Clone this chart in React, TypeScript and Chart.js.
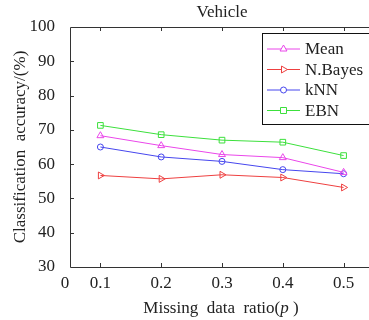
import React, { useEffect, useRef } from "react";
import { Chart, registerables } from "chart.js";

Chart.register(...registerables);

const chartTitle = "Vehicle";
const yAxisTitle = "Classification  accuracy/(%)";
const xAxisTitleMain = "Missing  data  ratio(";
const xAxisTitleVar = "p";
const xAxisTitleEnd = " )";

const ratios = [0.1, 0.2, 0.3, 0.4, 0.5];
const meanAcc = [68.3, 65.4, 62.8, 61.9, 57.6];
const bayesAcc = [56.7, 55.7, 56.9, 56.1, 53.2];
const knnAcc = [65.0, 62.1, 60.8, 58.4, 57.2];
const ebnAcc = [71.3, 68.6, 67.0, 66.4, 62.5];
const seriesNames = ["Mean", "N.Bayes", "kNN", "EBN"];

const xTickValues = [0.05, 0.1, 0.2, 0.3, 0.4, 0.5];
const xTickLabels = ["0", "0.1", "0.2", "0.3", "0.4", "0.5"];
const yTickValues = [30, 40, 50, 60, 70, 80, 90, 100];

const FONT = "'Liberation Serif', 'DejaVu Serif', serif";
const colors = ["#ea46ea", "#ee4040", "#4646ee", "#3ce03c"];
const shapes = ["triangle", "rtriangle", "circle", "rect"];

function drawMarker(ctx: CanvasRenderingContext2D, shape: string, x: number, y: number, color: string) {
  ctx.save();
  ctx.strokeStyle = color;
  ctx.lineWidth = 1;
  ctx.fillStyle = "#ffffff";
  ctx.beginPath();
  if (shape === "triangle") {
    const r = 4;
    ctx.moveTo(x, y - r);
    ctx.lineTo(x + r * 0.866, y + r * 0.5);
    ctx.lineTo(x - r * 0.866, y + r * 0.5);
    ctx.closePath();
  } else if (shape === "rtriangle") {
    const r = 4;
    ctx.moveTo(x + r, y);
    ctx.lineTo(x - r * 0.5, y + r * 0.866);
    ctx.lineTo(x - r * 0.5, y - r * 0.866);
    ctx.closePath();
  } else if (shape === "circle") {
    ctx.arc(x, y, 3, 0, Math.PI * 2);
  } else {
    ctx.rect(x - 3, y - 3, 6, 6);
  }
  ctx.fill();
  ctx.stroke();
  ctx.restore();
}

const decorPlugin = {
  id: "matlabDecor",
  afterDraw(chart: any) {
    const ctx: CanvasRenderingContext2D = chart.ctx;
    const { left, right, top, bottom } = chart.chartArea;
    const xs = chart.scales.x;
    const ys = chart.scales.y;
    ctx.save();
    // axes box
    ctx.strokeStyle = "#333333";
    ctx.lineWidth = 1;
    ctx.beginPath();
    ctx.moveTo(left + 0.5, top + 0.5);
    ctx.lineTo(left + 0.5, bottom + 0.5);
    ctx.lineTo(right, bottom + 0.5);
    ctx.moveTo(left + 0.5, top + 0.5);
    ctx.lineTo(right, top + 0.5);
    ctx.lineTo(right, bottom + 0.5);
    ctx.stroke();
    // ticks
    ctx.beginPath();
    for (let i = 1; i < xTickValues.length; i++) {
      const px = Math.round(xs.getPixelForValue(xTickValues[i])) + 0.5;
      ctx.moveTo(px, bottom);
      ctx.lineTo(px, bottom - 4);
      ctx.moveTo(px, top);
      ctx.lineTo(px, top + 4);
    }
    for (let i = 1; i < yTickValues.length - 1; i++) {
      const py = Math.round(ys.getPixelForValue(yTickValues[i])) + 0.5;
      ctx.moveTo(left, py);
      ctx.lineTo(left + 4, py);
      ctx.moveTo(right, py);
      ctx.lineTo(right - 4, py);
    }
    ctx.stroke();

    // first x tick label (sits just left of the axis corner)
    ctx.fillStyle = "#222222";
    ctx.font = `17px ${FONT}`;
    ctx.textAlign = "center";
    ctx.textBaseline = "alphabetic";
    ctx.fillText(xTickLabels[0], xs.getPixelForValue(xTickValues[0]) - 5, 288);

    // legend
    const lx = 262, ly = 33, lw = 130, lh = 91;
    ctx.fillStyle = "#ffffff";
    ctx.fillRect(lx, ly, lw, lh);
    ctx.strokeStyle = "#111111";
    ctx.strokeRect(lx + 0.5, ly + 0.5, lw, lh);
    ctx.font = `17px ${FONT}`;
    ctx.textBaseline = "middle";
    ctx.textAlign = "left";
    for (let i = 0; i < seriesNames.length; i++) {
      const ry = ly + 16 + i * 20.5;
      ctx.strokeStyle = colors[i];
      ctx.beginPath();
      ctx.moveTo(lx + 5, ry);
      ctx.lineTo(lx + 38, ry);
      ctx.stroke();
      drawMarker(ctx, shapes[i], lx + 21.5, ry, colors[i]);
      ctx.fillStyle = "#222222";
      ctx.fillText(seriesNames[i], lx + 43, ry + 1);
    }

    // title
    ctx.fillStyle = "#222222";
    ctx.font = `17px ${FONT}`;
    ctx.textAlign = "center";
    ctx.textBaseline = "alphabetic";
    ctx.fillText(chartTitle, (left + right) / 2, 17);

    // x title
    ctx.font = `17px ${FONT}`;
    const w1 = ctx.measureText(xAxisTitleMain).width;
    ctx.font = `italic 17px ${FONT}`;
    const w2 = ctx.measureText(xAxisTitleVar).width;
    ctx.font = `17px ${FONT}`;
    const w3 = ctx.measureText(xAxisTitleEnd).width;
    const total = w1 + w2 + w3;
    const sx = 221 - total / 2;
    ctx.textAlign = "left";
    ctx.fillText(xAxisTitleMain, sx, 313);
    ctx.font = `italic 17px ${FONT}`;
    ctx.fillText(xAxisTitleVar, sx + w1, 313);
    ctx.font = `17px ${FONT}`;
    ctx.fillText(xAxisTitleEnd, sx + w1 + w2, 313);

    // y title
    ctx.save();
    ctx.translate(25, (top + bottom) / 2);
    ctx.rotate(-Math.PI / 2);
    ctx.textAlign = "center";
    ctx.font = `17px ${FONT}`;
    ctx.fillText(yAxisTitle, 0, 0);
    ctx.restore();

    ctx.restore();
  },
};

function makeDataset(label: string, values: number[], i: number) {
  const style = shapes[i] === "rtriangle" ? "triangle" : shapes[i];
  return {
    label,
    data: ratios.map((r, k) => ({ x: r, y: values[k] })),
    borderColor: colors[i],
    backgroundColor: "rgba(255,255,255,0)",
    borderWidth: 1,
    pointStyle: style,
    pointRotation: shapes[i] === "rtriangle" ? 90 : 0,
    pointRadius: shapes[i] === "circle" ? 3 : 4,
    pointBorderColor: colors[i],
    pointBackgroundColor: "rgba(255,255,255,0)",
    pointBorderWidth: 1,
    tension: 0,
    fill: false,
  };
}

export default function App() {
  const ref = useRef<HTMLCanvasElement>(null);
  useEffect(() => {
    if (!ref.current) return;
    const chart = new Chart(ref.current, {
      type: "line",
      data: {
        datasets: [
          makeDataset(seriesNames[0], meanAcc, 0),
          makeDataset(seriesNames[1], bayesAcc, 1),
          makeDataset(seriesNames[2], knnAcc, 2),
          makeDataset(seriesNames[3], ebnAcc, 3),
        ],
      },
      options: {
        responsive: false,
        animation: false,
        devicePixelRatio: 1,
        layout: { padding: { top: 27, right: 6, left: 0, bottom: 0 } },
        plugins: {
          legend: { display: false },
          title: { display: false },
          tooltip: { enabled: false },
        },
        scales: {
          x: {
            type: "linear",
            min: 0.05,
            max: 0.55,
            grid: { display: false },
            border: { display: false },
            afterBuildTicks: (s: any) => {
              s.ticks = xTickValues.map((v) => ({ value: v }));
            },
            afterFit: (s: any) => {
              s.height = 53;
            },
            ticks: {
              autoSkip: false,
              maxRotation: 0,
              padding: -2,
              color: "#222222",
              font: { family: FONT, size: 17 },
              callback: (_v: any, idx: number) => (idx === 0 ? "" : xTickLabels[idx]),
            },
          },
          y: {
            type: "linear",
            min: 30,
            max: 100,
            grid: { display: false },
            border: { display: false },
            afterBuildTicks: (s: any) => {
              s.ticks = yTickValues.map((v) => ({ value: v }));
            },
            afterFit: (s: any) => {
              s.width = 70;
            },
            ticks: {
              padding: 7,
              color: "#222222",
              font: { family: FONT, size: 17 },
              callback: (v: any) => String(v),
            },
          },
        },
      },
      plugins: [decorPlugin],
    });
    return () => chart.destroy();
  }, []);
  return (
    <div
      style={{
        position: "absolute",
        left: 0,
        top: 0,
        width: 369,
        height: 320,
        overflow: "hidden",
        background: "#ffffff",
      }}
    >
      <canvas ref={ref} width={380} height={320} style={{ display: "block" }} />
    </div>
  );
}
